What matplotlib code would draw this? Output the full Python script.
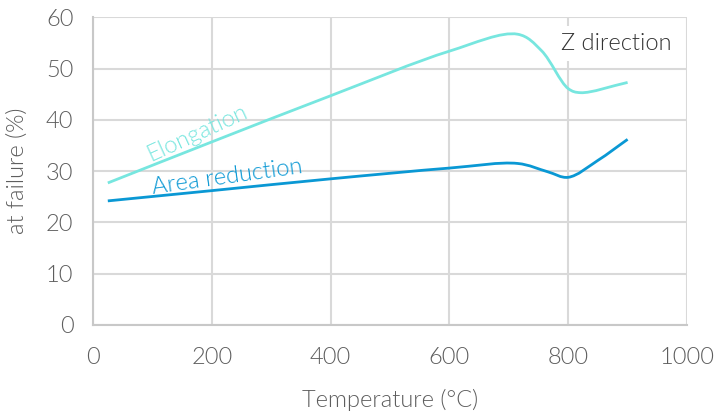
import matplotlib
matplotlib.use("Agg")
import matplotlib.pyplot as plt
from matplotlib.path import Path
from matplotlib.patches import PathPatch
import numpy as np

plt.rcParams['font.family'] = ['Lato', 'DejaVu Sans']

elong_temps = [25, 200, 400, 600, 715, 755, 800, 821, 900]
elongation = [27.7, 35.7, 44.7, 53.4, 56.7, 53.5, 46.1, 45.3, 47.3]
area_temps = [25, 200, 400, 600, 715, 765, 800, 850, 900]
area_reduction = [24.2, 26.2, 28.5, 30.6, 31.5, 29.9, 28.8, 32.1, 36.2]

x_ticks = [0, 200, 400, 600, 800, 1000]
y_ticks = [0, 10, 20, 30, 40, 50, 60]

C_EL = '#77E6DF'
C_AR = '#0A98D4'
GRID = '#D9D9D9'
TICK = '#5E5E5E'


def smooth_path(xs, ys, sx=0.594, sy=5.13, alpha=0.5):
    """Centripetal Catmull-Rom through the points (in screen-like scale), as Bezier segments."""
    P = np.column_stack([np.asarray(xs, float) * sx, np.asarray(ys, float) * sy])
    n = len(P)
    ext = np.vstack([2 * P[0] - P[1], P, 2 * P[-1] - P[-2]])
    d = np.linalg.norm(np.diff(ext, axis=0), axis=1) ** alpha
    t = np.concatenate([[0], np.cumsum(d)])
    verts = [tuple(P[0] / [sx, sy])]
    codes = [Path.MOVETO]
    for i in range(n - 1):
        p0, p1, p2, p3 = ext[i], ext[i + 1], ext[i + 2], ext[i + 3]
        t0, t1, t2, t3 = t[i], t[i + 1], t[i + 2], t[i + 3]
        m1 = ((p1 - p0) / (t1 - t0) - (p2 - p0) / (t2 - t0) + (p2 - p1) / (t2 - t1)) * (t2 - t1)
        m2 = ((p2 - p1) / (t2 - t1) - (p3 - p1) / (t3 - t1) + (p3 - p2) / (t3 - t2)) * (t2 - t1)
        c1 = p1 + m1 / 3
        c2 = p2 - m2 / 3
        for v in (c1, c2, p2):
            verts.append(tuple(v / [sx, sy]))
        codes += [Path.CURVE4] * 3
    return Path(verts, codes)


fig = plt.figure(figsize=(7.19, 4.18), dpi=100)
ax = fig.add_axes([0.1293, 0.2225, 0.8262, 0.7361])
ax.set_xlim(0, 1000)
ax.set_ylim(0, 60)
ax.set_xticks(x_ticks)
ax.set_yticks(y_ticks)
ax.grid(True, color=GRID, linewidth=1.5)
ax.set_axisbelow(True)
for s in ['top', 'right']:
    ax.spines[s].set_visible(False)
for s in ['left', 'bottom']:
    ax.spines[s].set_color('#C8C8C8')
    ax.spines[s].set_linewidth(1.5)
ax.tick_params(length=0, labelsize=17, labelcolor=TICK)
ax.tick_params(axis='x', pad=16)
ax.tick_params(axis='y', pad=14)
for lab in ax.get_xticklabels() + ax.get_yticklabels():
    lab.set_fontweight(300)

ax.add_patch(PathPatch(smooth_path(elong_temps, elongation), facecolor='none',
                       edgecolor=C_EL, linewidth=2, capstyle='butt', zorder=3))
ax.add_patch(PathPatch(smooth_path(area_temps, area_reduction), facecolor='none',
                       edgecolor=C_AR, linewidth=2, capstyle='butt', zorder=3))

ax.text(175, 37.4, 'Elongation', color=C_EL, fontsize=17, fontweight=300,
        rotation=24.5, rotation_mode='anchor', ha='center', va='center')
ax.text(226, 28.9, 'Area reduction', color=C_AR, fontsize=17, fontweight=300,
        rotation=8, rotation_mode='anchor', ha='center', va='center')
ax.text(881, 54.9, 'Z direction', color='#333333', fontsize=17, fontweight=300,
        ha='center', va='center', zorder=4,
        bbox=dict(facecolor='white', edgecolor='none', pad=5))

ax.set_xlabel('Temperature (°C)', fontsize=17, color=TICK, fontweight=300, labelpad=15)
ax.set_ylabel('at failure (%)', fontsize=17, color=TICK, fontweight=300, labelpad=13)

fig.savefig('out.png', dpi=100)
